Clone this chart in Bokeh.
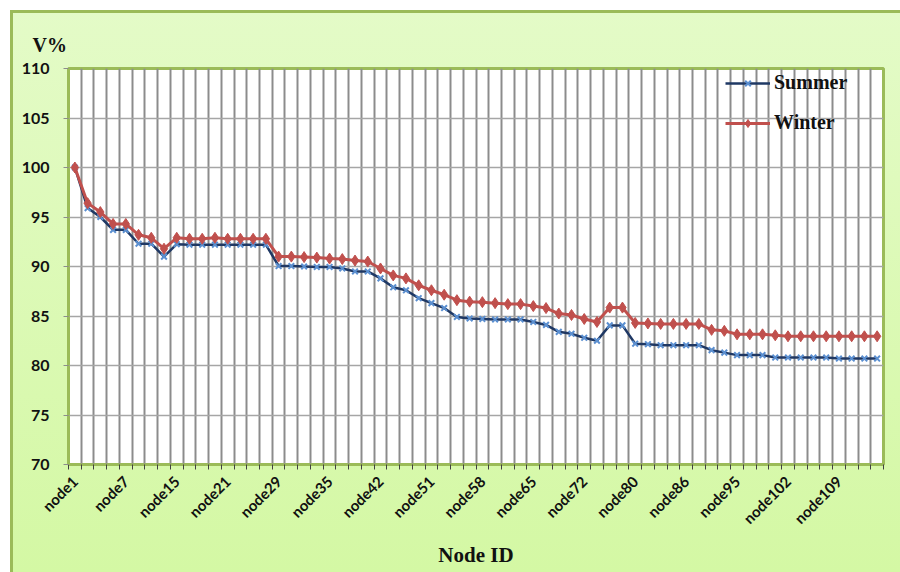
from bokeh.plotting import figure
from bokeh.models import Range1d, FixedTicker, Legend, LegendItem, Title
from bokeh.embed import file_html
from bokeh.resources import INLINE

# ---------------- data ----------------
node_numbers = [1, 2, 4, 5, 7, 9, 11, 13, 15, 16, 18, 19, 21, 23, 25, 27,
                29, 30, 32, 33, 35, 37, 38, 40, 42, 44, 46, 49, 51, 53, 55, 56,
                58, 60, 61, 63, 65, 67, 68, 70, 72, 74, 76, 78, 80, 81, 83, 84,
                86, 88, 91, 93, 95, 97, 98, 100, 102, 104, 105, 107, 109, 111, 113, 115]
nodes = ["node%d" % n for n in node_numbers]

summer = [100.0, 95.9, 95.0, 93.7, 93.7, 92.3, 92.3, 91.0, 92.25, 92.2,
          92.2, 92.2, 92.2, 92.2, 92.2, 92.2, 90.05, 90.05, 90.0, 89.95,
          89.95, 89.8, 89.5, 89.5, 88.8, 87.9, 87.6, 86.8, 86.3, 85.8,
          84.9, 84.75, 84.7, 84.65, 84.65, 84.65, 84.4, 84.1, 83.4, 83.2,
          82.8, 82.5, 84.05, 84.05, 82.2, 82.15, 82.05, 82.05, 82.05, 82.05,
          81.55, 81.3, 81.05, 81.05, 81.05, 80.8, 80.8, 80.8, 80.8, 80.8,
          80.7, 80.7, 80.7, 80.7]

winter = [100.0, 96.4, 95.5, 94.3, 94.3, 93.2, 92.9, 91.8, 92.9, 92.8,
          92.8, 92.9, 92.8, 92.8, 92.8, 92.8, 91.0, 91.0, 90.95, 90.9,
          90.8, 90.75, 90.6, 90.5, 89.8, 89.1, 88.8, 88.1, 87.6, 87.15,
          86.6, 86.45, 86.4, 86.3, 86.2, 86.2, 86.0, 85.8, 85.25, 85.1,
          84.7, 84.4, 85.85, 85.85, 84.3, 84.25, 84.2, 84.2, 84.2, 84.2,
          83.6, 83.5, 83.15, 83.15, 83.15, 83.05, 82.95, 82.95, 82.95, 82.95,
          82.95, 82.95, 82.95, 82.95]

y_ticks = [70, 75, 80, 85, 90, 95, 100, 105, 110]
label_step = 4
y_title = "V%"
x_title = "Node ID"

# ---------------- figure ----------------
n = len(nodes)
x = list(range(n))

GREEN = "#9bbb59"

p = figure(frame_width=815, frame_height=396, title=y_title,
           x_range=Range1d(-0.5, n - 0.5), y_range=Range1d(y_ticks[0], y_ticks[-1]),
           output_backend="svg", toolbar_location=None,
           min_border_left=68, min_border_top=68, min_border_right=17, min_border_bottom=108)

p.border_fill_alpha = 0
p.background_fill_color = "white"
p.outline_line_color = GREEN
p.outline_line_width = 3
p.styles = {
    "background": "linear-gradient(180deg, #e4fbc8 0%, #d4f8a4 100%)",
    "box-shadow": "inset 10px 10px 0 #ffffff, inset 13px 13px 0 " + GREEN,
}

# title "V%" at top-left
p.title.align = "left"
p.title.offset = -36
p.title.standoff = 26
p.title.text_font = "Liberation Serif"
p.title.text_font_style = "bold"
p.title.text_font_size = "20px"
p.title.text_color = "#111111"

# x axis: labels at every 4th node, tick marks at category boundaries
boundaries = [i - 0.5 for i in range(n + 1)]
label_pos = list(range(0, n, label_step))
p.xaxis.ticker = FixedTicker(ticks=label_pos, minor_ticks=boundaries)
p.xaxis.major_label_overrides = {i: nodes[i] for i in label_pos}
p.xaxis.major_label_orientation = 0.785398
p.xaxis.major_tick_line_color = None
p.xaxis.major_tick_out = 5
p.xaxis.major_tick_in = 0
p.xaxis.minor_tick_line_color = "#404040"
p.xaxis.minor_tick_out = 5
p.xaxis.minor_tick_in = 0
p.xaxis.minor_tick_line_width = 1
p.xaxis.axis_line_color = GREEN
p.xaxis.axis_line_width = 2
p.xaxis.major_label_standoff = 9
p.xaxis.major_label_text_font = "Lato"
p.xaxis.major_label_text_font_style = "bold"
p.xaxis.major_label_text_font_size = "15px"
p.xaxis.major_label_text_color = "#111111"

p.yaxis.ticker = FixedTicker(ticks=y_ticks)
p.yaxis.minor_tick_line_color = None
p.yaxis.major_tick_line_color = "#8c8c8c"
p.yaxis.major_tick_out = 5
p.yaxis.major_tick_in = 0
p.yaxis.axis_line_color = GREEN
p.yaxis.axis_line_width = 2
p.yaxis.major_label_standoff = 14
p.yaxis.major_label_text_font = "Lato"
p.yaxis.major_label_text_font_style = "bold"
p.yaxis.major_label_text_font_size = "16px"
p.yaxis.major_label_text_color = "#111111"

p.xgrid.ticker = FixedTicker(ticks=boundaries)
p.xgrid.grid_line_color = "#8c8c8c"
p.xgrid.grid_line_width = 2
p.ygrid.ticker = FixedTicker(ticks=y_ticks)
p.ygrid.grid_line_color = "#a6a6a6"
p.ygrid.grid_line_width = 1.5

# series
s_line = p.line(x, summer, line_color="#1f3864", line_width=2.5)
s_pts = p.scatter(x, summer, marker="x", size=8, line_color="#5b8fd0", line_width=2)
w_line = p.line(x, winter, line_color="#c0504d", line_width=3)
w_pts = p.scatter(x, winter, marker="diamond", size=11, fill_color="#c0504d", line_color="#c0504d")

legend = Legend(items=[LegendItem(label="Summer", renderers=[s_line, s_pts]),
                       LegendItem(label="Winter", renderers=[w_line, w_pts])],
                location=(651, 324), orientation="vertical")
legend.background_fill_alpha = 0
legend.border_line_alpha = 0
legend.padding = 6
legend.margin = 0
legend.spacing = 17
legend.glyph_width = 45
legend.glyph_height = 20
legend.label_height = 20
legend.label_standoff = 4
legend.label_text_font = "Liberation Serif"
legend.label_text_font_style = "bold"
legend.label_text_font_size = "20px"
legend.label_text_color = "#111111"
p.add_layout(legend)

# x axis title below the tick labels
p.add_layout(Title(text=x_title, align="center", standoff=9,
                   text_font="Liberation Serif", text_font_style="bold",
                   text_font_size="21px", text_color="#111111"), "below")

open("out.html", "w").write(file_html(p, INLINE))
